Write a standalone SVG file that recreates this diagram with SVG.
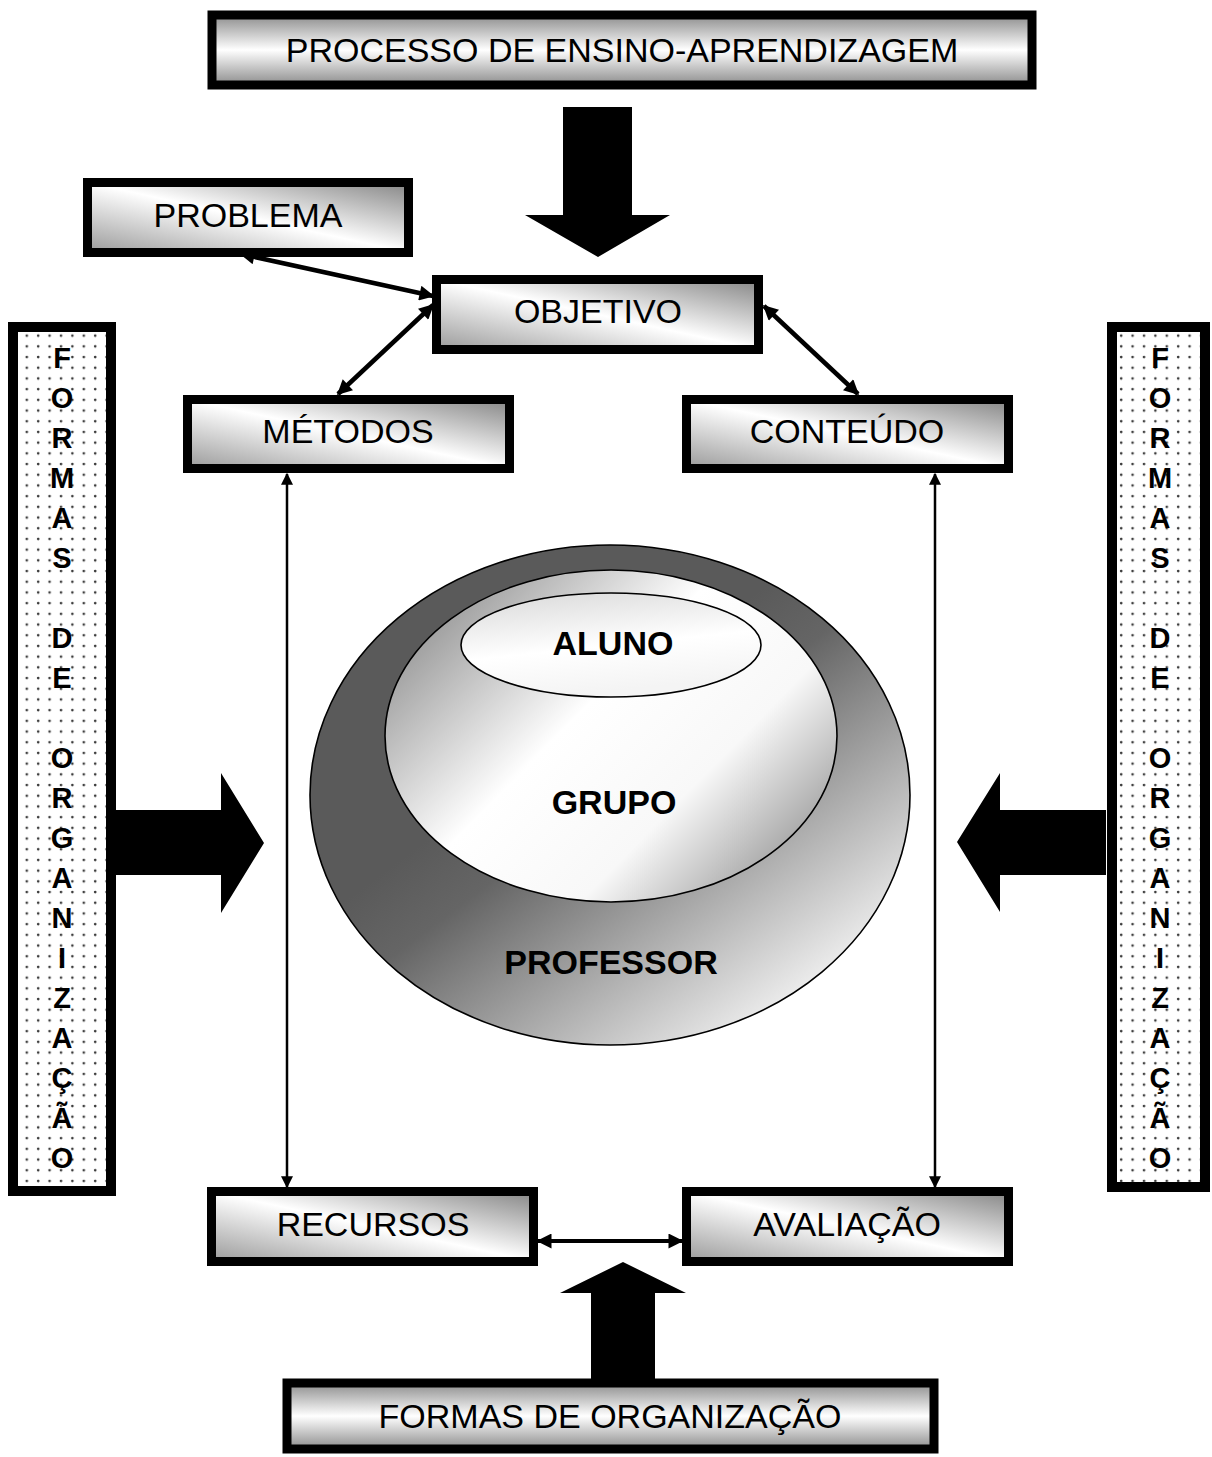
<svg xmlns="http://www.w3.org/2000/svg" width="1212" height="1457" viewBox="0 0 1212 1457">
<defs>
<style>
.box{stroke:#000;stroke-width:9;}
.lbl{font-family:"Liberation Sans",Arial,sans-serif;font-size:34px;fill:#000;text-anchor:middle;}
.blbl{font-family:"Liberation Sans",Arial,sans-serif;font-size:34px;font-weight:bold;fill:#000;text-anchor:middle;}
.vl{font-family:"Liberation Sans",Arial,sans-serif;font-size:29px;font-weight:bold;fill:#000;text-anchor:middle;}
.con{stroke:#000;fill:none;}
.big{fill:#000;}
.ell{stroke:#000;stroke-width:1.6;}
</style>
<linearGradient id="gDiag" x1="0" y1="1" x2="1" y2="0">
<stop offset="0" stop-color="#9a9a9a"/>
<stop offset="0.5" stop-color="#ffffff"/>
<stop offset="1" stop-color="#858585"/>
</linearGradient>
<linearGradient id="gVert" x1="0" y1="0" x2="0" y2="1">
<stop offset="0" stop-color="#8c8c8c"/>
<stop offset="0.5" stop-color="#ffffff"/>
<stop offset="1" stop-color="#8c8c8c"/>
</linearGradient>
<linearGradient id="gOuter" x1="0.35" y1="0.45" x2="0.8" y2="0.95">
<stop offset="0" stop-color="#5a5a5a"/>
<stop offset="0.2" stop-color="#656565"/>
<stop offset="1" stop-color="#f4f4f4"/>
</linearGradient>
<linearGradient id="gGrupo" x1="0.05" y1="0.2" x2="0.95" y2="0.85">
<stop offset="0" stop-color="#999999"/>
<stop offset="0.4" stop-color="#ffffff"/>
<stop offset="0.7" stop-color="#f8f8f8"/>
<stop offset="1" stop-color="#999999"/>
</linearGradient>
<linearGradient id="gAluno" x1="0" y1="0" x2="0.3" y2="1">
<stop offset="0" stop-color="#d8d8d8"/>
<stop offset="0.6" stop-color="#ffffff"/>
<stop offset="1" stop-color="#f4f4f4"/>
</linearGradient>
<pattern id="dots" width="11.4" height="10.7" patternUnits="userSpaceOnUse">
<rect width="11.4" height="10.7" fill="#fff"/>
<circle cx="4" cy="4" r="1.3" fill="#3a3a3a"/>
</pattern>
<marker id="ahB" viewBox="0 0 10 10" refX="9" refY="5" markerWidth="18" markerHeight="15" markerUnits="userSpaceOnUse" orient="auto-start-reverse">
<path d="M0,0 L10,5 L0,10 z" fill="#000"/>
</marker>
<marker id="ahS" viewBox="0 0 10 10" refX="9" refY="5" markerWidth="16" markerHeight="12" markerUnits="userSpaceOnUse" orient="auto-start-reverse">
<path d="M0,0 L10,5 L0,10 z" fill="#000"/>
</marker>
</defs>
<rect width="1212" height="1457" fill="#fff"/>

<g id="side-left">
<rect x="13" y="327" width="98" height="864" fill="url(#dots)" stroke="#000" stroke-width="10"/>
<text class="vl" x="62" y="368">F<tspan x="62" dy="40">O</tspan><tspan x="62" dy="40">R</tspan><tspan x="62" dy="40">M</tspan><tspan x="62" dy="40">A</tspan><tspan x="62" dy="40">S</tspan><tspan x="62" dy="80">D</tspan><tspan x="62" dy="40">E</tspan><tspan x="62" dy="80">O</tspan><tspan x="62" dy="40">R</tspan><tspan x="62" dy="40">G</tspan><tspan x="62" dy="40">A</tspan><tspan x="62" dy="40">N</tspan><tspan x="62" dy="40">I</tspan><tspan x="62" dy="40">Z</tspan><tspan x="62" dy="40">A</tspan><tspan x="62" dy="40">Ç</tspan><tspan x="62" dy="40">Ã</tspan><tspan x="62" dy="40">O</tspan></text>
</g>
<g id="side-right">
<rect x="1112" y="327" width="93" height="860" fill="url(#dots)" stroke="#000" stroke-width="10"/>
<text class="vl" x="1160" y="368">F<tspan x="1160" dy="40">O</tspan><tspan x="1160" dy="40">R</tspan><tspan x="1160" dy="40">M</tspan><tspan x="1160" dy="40">A</tspan><tspan x="1160" dy="40">S</tspan><tspan x="1160" dy="80">D</tspan><tspan x="1160" dy="40">E</tspan><tspan x="1160" dy="80">O</tspan><tspan x="1160" dy="40">R</tspan><tspan x="1160" dy="40">G</tspan><tspan x="1160" dy="40">A</tspan><tspan x="1160" dy="40">N</tspan><tspan x="1160" dy="40">I</tspan><tspan x="1160" dy="40">Z</tspan><tspan x="1160" dy="40">A</tspan><tspan x="1160" dy="40">Ç</tspan><tspan x="1160" dy="40">Ã</tspan><tspan x="1160" dy="40">O</tspan></text>
</g>

<g id="processo">
<rect class="box" x="212" y="15" width="820" height="70" fill="url(#gVert)" stroke-width="10"/>
<text class="lbl" x="622" y="62">PROCESSO DE ENSINO-APRENDIZAGEM</text>
</g>
<g id="problema">
<rect class="box" x="87.5" y="182.5" width="321" height="70" fill="url(#gDiag)"/>
<text class="lbl" x="248" y="227">PROBLEMA</text>
</g>
<g id="objetivo">
<rect class="box" x="436.5" y="279.5" width="322" height="70" fill="url(#gDiag)"/>
<text class="lbl" x="598" y="323">OBJETIVO</text>
</g>
<g id="metodos">
<rect class="box" x="187.5" y="399.5" width="322" height="69" fill="url(#gDiag)"/>
<text class="lbl" x="348" y="443">MÉTODOS</text>
</g>
<g id="conteudo">
<rect class="box" x="686.5" y="399.5" width="322" height="69" fill="url(#gDiag)"/>
<text class="lbl" x="847" y="443">CONTEÚDO</text>
</g>
<g id="recursos">
<rect class="box" x="211.5" y="1191.5" width="322" height="70" fill="url(#gDiag)"/>
<text class="lbl" x="373" y="1236">RECURSOS</text>
</g>
<g id="avaliacao">
<rect class="box" x="686.5" y="1191.5" width="322" height="70" fill="url(#gDiag)"/>
<text class="lbl" x="847" y="1236">AVALIAÇÃO</text>
</g>
<g id="formas">
<rect class="box" x="287" y="1383" width="647" height="66" fill="url(#gVert)" stroke-width="10"/>
<text class="lbl" x="610" y="1428">FORMAS DE ORGANIZAÇÃO</text>
</g>

<g id="circulos">
<ellipse class="ell" cx="610" cy="795" rx="300" ry="250" fill="url(#gOuter)"/>
<ellipse class="ell" cx="611" cy="736" rx="226" ry="166" fill="url(#gGrupo)"/>
<ellipse class="ell" cx="611" cy="645" rx="150" ry="52" fill="url(#gAluno)"/>
<text class="blbl" x="613" y="655">ALUNO</text>
<text class="blbl" x="614" y="814">GRUPO</text>
<text class="blbl" x="611" y="974">PROFESSOR</text>
</g>

<g id="connectors">
<path class="big" d="M563,107 L632,107 L632,215 L670,215 L598,257 L525,215 L563,215 Z"/>
<path class="big" d="M115,810 L221,810 L221,773 L264,843 L221,913 L221,875 L115,875 Z"/>
<path class="big" d="M1106,810 L1000,810 L1000,773 L957,842 L1000,912 L1000,875 L1106,875 Z"/>
<path class="big" d="M591,1379 L591,1293 L560,1293 L623,1262 L686,1293 L655,1293 L655,1379 Z"/>
<line class="con" x1="241" y1="254" x2="433" y2="296" stroke-width="4.5" marker-start="url(#ahB)" marker-end="url(#ahB)"/>
<line class="con" x1="433" y1="305" x2="338" y2="394" stroke-width="4.5" marker-start="url(#ahB)" marker-end="url(#ahB)"/>
<line class="con" x1="764" y1="306" x2="858" y2="394" stroke-width="4.5" marker-start="url(#ahB)" marker-end="url(#ahB)"/>
<line class="con" x1="287" y1="474" x2="287" y2="1187" stroke-width="2.5" marker-start="url(#ahS)" marker-end="url(#ahS)"/>
<line class="con" x1="935" y1="474" x2="935" y2="1187" stroke-width="2.5" marker-start="url(#ahS)" marker-end="url(#ahS)"/>
<line class="con" x1="538" y1="1241" x2="682" y2="1241" stroke-width="4" marker-start="url(#ahB)" marker-end="url(#ahB)"/>
</g>
</svg>
